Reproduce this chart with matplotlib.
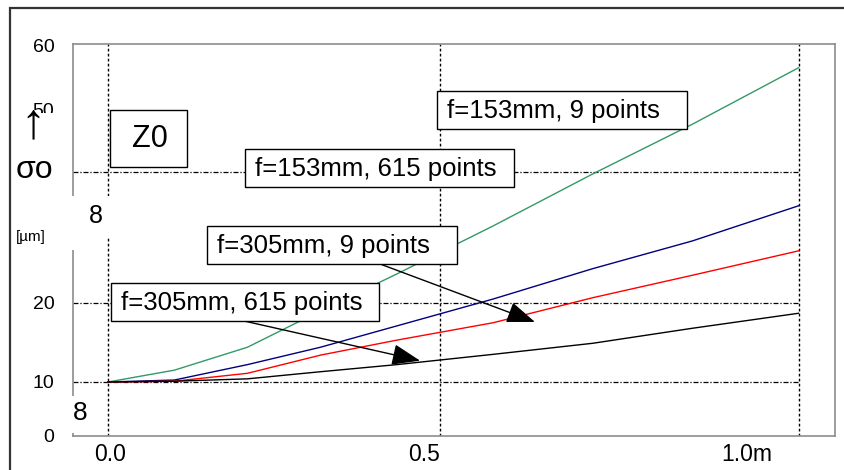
import numpy as np
import matplotlib
matplotlib.use('Agg')
import matplotlib.pyplot as plt
from matplotlib.patches import Rectangle

plt.rcParams['font.family'] = ['Liberation Sans', 'DejaVu Sans']

# ---------------- data ----------------
x_m = [0.0, 0.10, 0.21, 0.32, 0.435, 0.58, 0.73, 0.88, 1.04]
f153_9pts = [10.0, 11.5, 14.4, 19.0, 24.4, 31.7, 39.7, 47.7, 56.6]
f153_615pts = [10.0, 10.25, 12.2, 14.4, 17.1, 20.6, 25.2, 29.4, 34.8]
f305_9pts = [10.0, 10.1, 11.1, 13.4, 15.3, 17.5, 20.8, 24.2, 27.9]
f305_615pts = [10.0, 10.1, 10.4, 11.3, 12.2, 13.5, 14.9, 16.8, 18.7]

series_labels = ["f=153mm, 9 points", "f=153mm, 615 points",
                 "f=305mm, 9 points", "f=305mm, 615 points"]
series_colors = ["#339966", "#000080", "#ff0000", "#000000"]

y_tick_vals = [0, 10, 20, 50, 60]
y_tick_labels = ["0", "10", "20", "50", "60"]
x_tick_pos = [0.003, 0.476, 0.962]
x_tick_labels = ["0.0", "0.5", "1.0m"]
h_grid = [10, 20, 40]
v_grid = [0.0, 0.5, 1.04]

# ---------------- figure ----------------
W, H = 844, 470
fig = plt.figure(figsize=(W / 100, H / 100), dpi=100)


def fx(px):
    return px / W


def fy(py):
    return 1 - py / H


ax = fig.add_axes([fx(73), fy(436), fx(835) - fx(73), fy(44) - fy(436)])

# non-uniform value axis of the original chart
Y_VALS = np.array([-10, 0, 10, 20, 30, 40, 50, 60, 70.0])
Y_POS = np.array([-54, 0, 54, 133, 199, 264, 326, 390, 454.0])


def fwd(v):
    return np.interp(v, Y_VALS, Y_POS)


def inv(p):
    return np.interp(p, Y_POS, Y_VALS)


ax.set_yscale('function', functions=(fwd, inv))
ax.set_xlim(-0.0527, 1.0949)
ax.set_ylim(0, 60.31)

for s in ax.spines.values():
    s.set_color('#8c8c8c')
    s.set_linewidth(1.2)

ax.set_yticks(y_tick_vals)
ax.set_yticklabels(y_tick_labels, fontsize=14)
ax.set_xticks(x_tick_pos)
ax.set_xticklabels(x_tick_labels, fontsize=16.5)
ax.minorticks_off()
ax.tick_params(axis='both', which='both', length=0)
ax.tick_params(axis='y', pad=13.5)
ax.tick_params(axis='x', pad=5)

# grid lines
for g in h_grid:
    ax.plot([ax.get_xlim()[0], v_grid[-1]], [g, g], color='black', lw=0.9,
            linestyle=(0, (4, 1.5, 1, 1.5)), zorder=1)
for g in v_grid:
    ax.axvline(g, color='black', lw=1.0, linestyle=(0, (2, 1.6)), zorder=1)

# series
for ys, c in zip([f153_9pts, f153_615pts, f305_9pts, f305_615pts], series_colors):
    ax.plot(x_m, ys, color=c, lw=1.0, zorder=2)

# arrows
arrow_kw = dict(arrowstyle='-|>,head_length=0.8,head_width=0.3',
                mutation_scale=22, color='black', lw=1.0,
                shrinkA=0, shrinkB=0)
ax.annotate('', xy=(0.643, 17.6), xytext=(0.410, 25.9),
            arrowprops=arrow_kw, zorder=5)
ax.annotate('', xy=(0.470, 12.7), xytext=(0.206, 17.7),
            arrowprops=arrow_kw, zorder=5)


# ---------------- annotation boxes (figure pixel layout) ----------------
def box(x0, y0, x1, y1, z=6):
    r = Rectangle((fx(x0), fy(y1)), fx(x1) - fx(x0), fy(y0) - fy(y1),
                  transform=fig.transFigure, facecolor='white',
                  edgecolor='black', lw=1.0, zorder=z)
    fig.add_artist(r)


def cover(x0, y0, x1, y1, z=4):
    r = Rectangle((fx(x0), fy(y1)), fx(x1) - fx(x0), fy(y0) - fy(y1),
                  transform=fig.transFigure, facecolor='white',
                  edgecolor='none', lw=0, zorder=z)
    fig.add_artist(r)


def ftext(px, py, s, size, ha='left', va='center', z=7):
    fig.text(fx(px), fy(py), s, fontsize=size, ha=ha, va=va, zorder=z,
             color='black')


box(110, 110, 187, 167)
ftext(150, 139, "Z0", 22, ha='center')

box_specs = [(437, 91, 687, 129), (245, 149, 514, 187),
             (207, 226, 457, 264), (111, 283, 379, 321)]
for (x0, y0, x1, y1), lab in zip(box_specs, series_labels):
    box(x0, y0, x1, y1)
    ftext(x0 + 10, (y0 + y1) / 2 + 1, lab, 18.5)

# outer frame
fig.add_artist(Rectangle((fx(10), fy(520)), fx(920) - fx(10), fy(8) - fy(520),
                         transform=fig.transFigure, facecolor='none',
                         edgecolor='#333333', lw=1.6, zorder=8))

# white covers that hide parts of the value axis
cover(28, 113, 58, 161)
cover(56, 196, 110, 237)
cover(60, 237, 76, 250)
cover(72, 396, 91, 433)

# axis title pieces
ftext(33, 124, "\u2191", 36, ha='center', z=7)
ftext(34, 170, "\u03c3o", 23, ha='center', z=7)
ftext(16, 237, "[\u00b5m]", 11, ha='left', z=7)
ftext(96, 216, "8", 18, ha='center', z=7)
ftext(80, 413, "8", 19, ha='center', z=7)

fig.savefig('out.png', dpi=100)
